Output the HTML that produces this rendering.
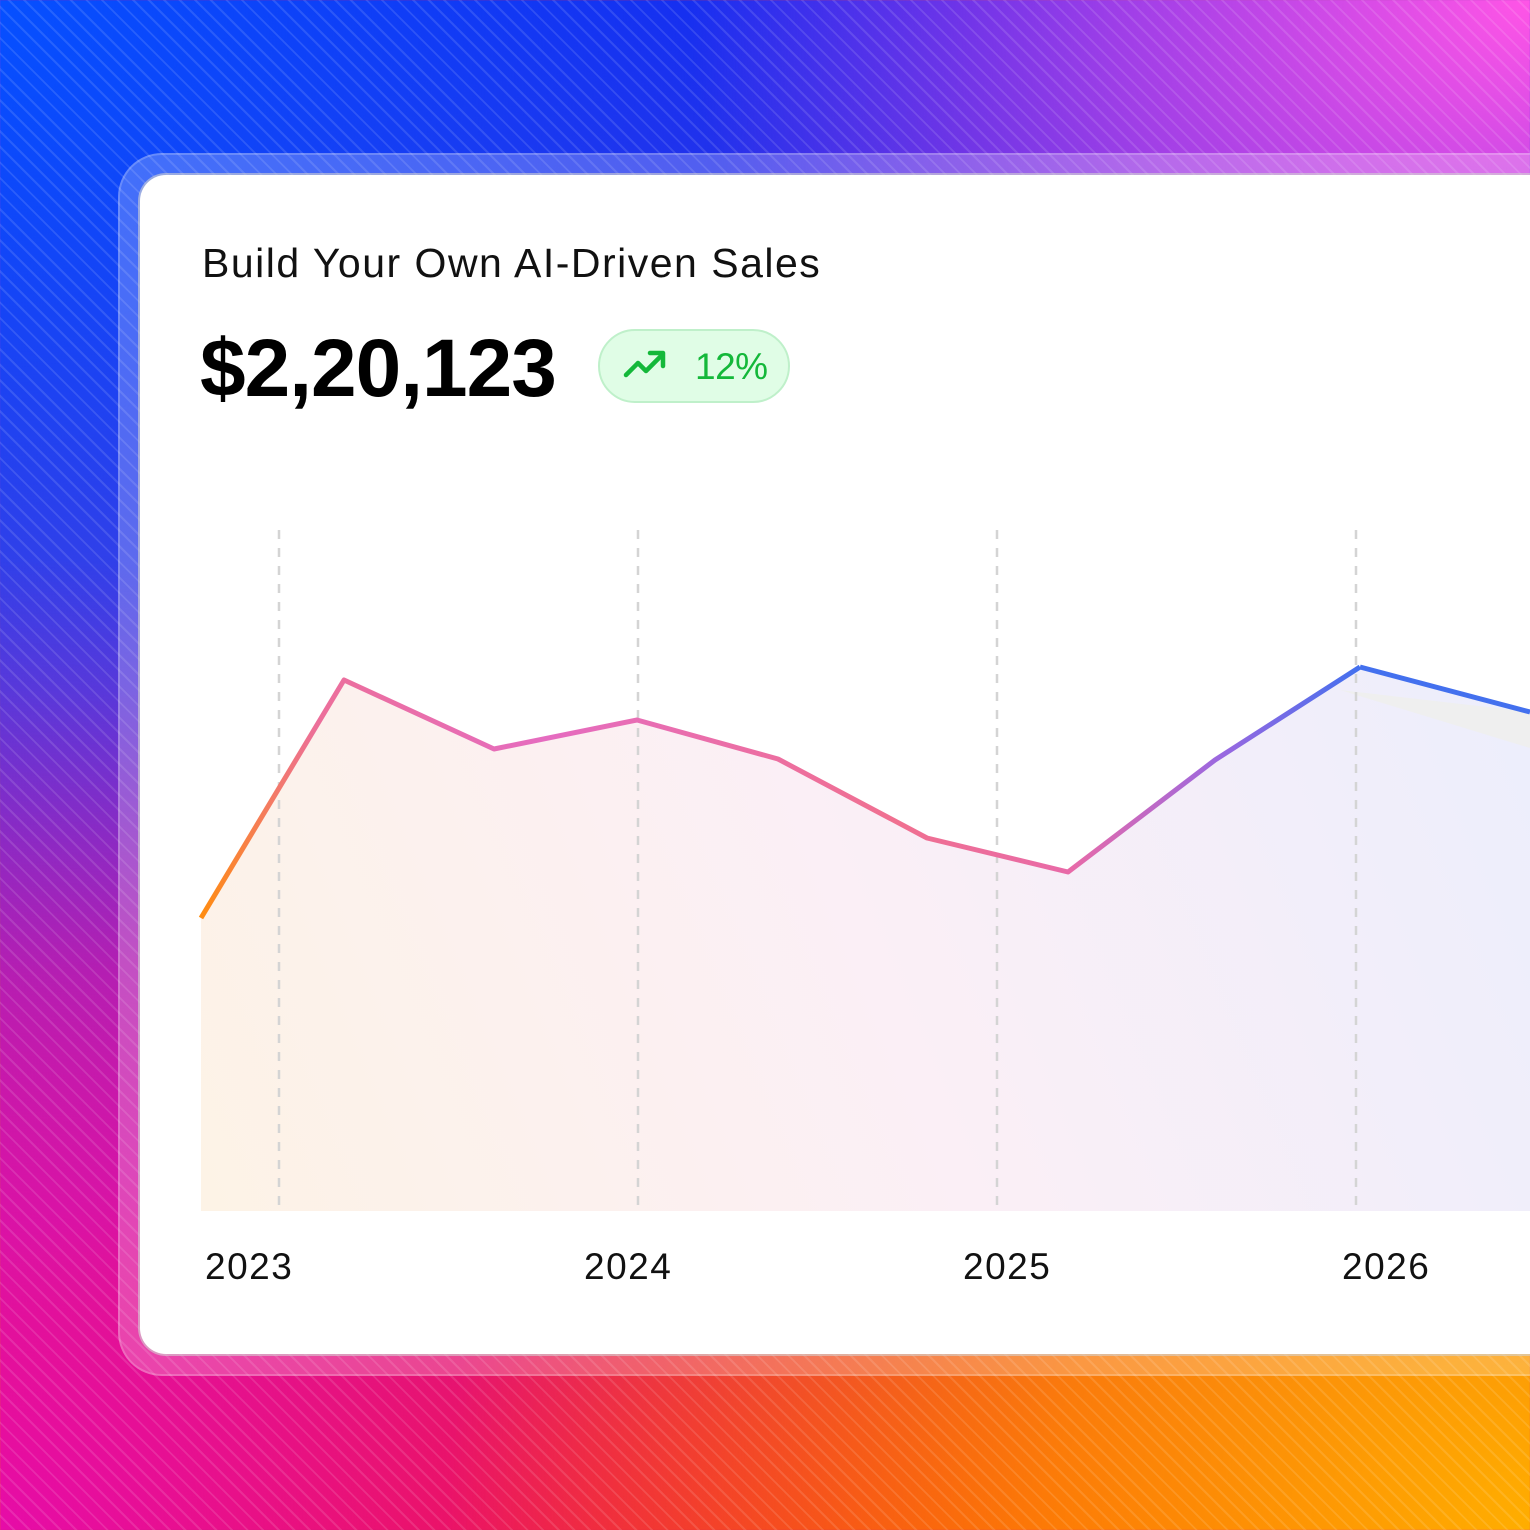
<!DOCTYPE html>
<html><head><style>
html,body{margin:0;padding:0}
body{width:1530px;height:1530px;overflow:hidden;position:relative;font-family:"Liberation Sans",sans-serif;
background:
radial-gradient(ellipse 55% 45% at 100% 0%, #ff55e6 0%, rgba(240,80,230,0.6) 50%, rgba(255,85,230,0) 100%),
radial-gradient(circle at 100% 100%, #ffae00 0%, rgba(255,140,0,0.85) 22%, rgba(255,120,0,0) 50%),
radial-gradient(circle at 0% 100%, #e60ca8 0%, rgba(230,12,168,0) 45%),
radial-gradient(ellipse 50% 30% at 40% 100%, #f01818 0%, rgba(240,24,24,0) 100%),
radial-gradient(circle at 0% 0%, #0650ff 0%, rgba(6,80,255,0) 45%),
linear-gradient(180deg,#1c22ea 0%,#5a38d6 45%,#c020a0 80%,#f02030 100%);}
.stripes{position:absolute;inset:0;background:repeating-linear-gradient(45deg,rgba(255,255,255,0) 0 9px,rgba(255,255,255,0.12) 9px 11px);}
.frame{position:absolute;left:118px;top:153px;width:1460px;height:1223px;border-radius:44px;background:rgba(255,255,255,0.22);box-shadow:inset 0 0 0 2px rgba(255,255,255,0.2)}
.card{position:absolute;left:140px;top:175px;width:1440px;height:1179px;border-radius:26px;background:#fff;box-shadow:0 0 0 2px rgba(210,210,210,0.6)}
.title{position:absolute;left:202px;top:240px;font-size:41px;letter-spacing:1.5px;color:#111;white-space:nowrap}
.num{position:absolute;left:200px;top:322px;font-size:82px;font-weight:bold;color:#000;letter-spacing:-1px;white-space:nowrap}
.badge{position:absolute;left:598px;top:329px;width:188px;height:70px;border-radius:37px;background:#e0fde6;border:2px solid #bff0ca}
.badge span{position:absolute;left:95px;top:15px;font-size:37px;color:#14b83a;letter-spacing:-0.5px}
svg{position:absolute;left:0;top:0}
.yr{position:absolute;top:1246px;font-size:37px;letter-spacing:1.5px;color:#111}
</style></head><body>
<div class="stripes"></div>
<div class="frame"></div>
<div class="card"></div>
<div class="title">Build Your Own AI-Driven Sales</div>
<div class="num">$2,20,123</div>
<div class="badge"><svg width="60" height="40" style="left:22px;top:16px"><polyline points="4,28 16,16 24,24 40,8" fill="none" stroke="#14b83a" stroke-width="4.5" stroke-linecap="round" stroke-linejoin="round"/><polyline points="28,6 41,6 41,19" fill="none" stroke="#14b83a" stroke-width="4.5" stroke-linecap="round" stroke-linejoin="round"/></svg><span>12%</span></div>
<svg width="1530" height="1530">
<defs>
<linearGradient id="fill" x1="200" y1="1210" x2="1530" y2="660" gradientUnits="userSpaceOnUse">
<stop offset="0" stop-color="#fdf3e6"/><stop offset="0.5" stop-color="#fbeff6"/><stop offset="1" stop-color="#eceefc"/></linearGradient>
<linearGradient id="ln" x1="201" y1="0" x2="1360" y2="0" gradientUnits="userSpaceOnUse">
<stop offset="0" stop-color="#ff8c10"/><stop offset="0.1" stop-color="#ec6f9a"/><stop offset="0.3" stop-color="#e56cc0"/><stop offset="0.6" stop-color="#f07090"/><stop offset="0.75" stop-color="#e86aa8"/><stop offset="0.88" stop-color="#9a68e0"/><stop offset="1" stop-color="#4370ee"/></linearGradient>
</defs>
<polygon points="201,918 344,680 494,749 637,720 778,759 927,838 1068,872 1215,760 1360,667 1530,712 1530,1211 201,1211" fill="url(#fill)"/>
<polygon points="1340,690 1530,712 1530,748" fill="#efefef"/>
<g stroke="#d4d4d4" stroke-width="2.5" stroke-dasharray="9,9">
<line x1="279" y1="530" x2="279" y2="1210"/><line x1="638" y1="530" x2="638" y2="1210"/><line x1="997" y1="530" x2="997" y2="1210"/><line x1="1356" y1="530" x2="1356" y2="1210"/></g>
<polyline points="201,918 344,680 494,749 637,720 778,759 927,838 1068,872 1215,760 1360,667" fill="none" stroke="url(#ln)" stroke-width="5" stroke-linejoin="round"/>
<polyline points="1360,667 1530,712" fill="none" stroke="#4370ee" stroke-width="5"/>
</svg>
<div class="yr" style="left:205px">2023</div>
<div class="yr" style="left:584px">2024</div>
<div class="yr" style="left:963px">2025</div>
<div class="yr" style="left:1342px">2026</div>
</body></html>
